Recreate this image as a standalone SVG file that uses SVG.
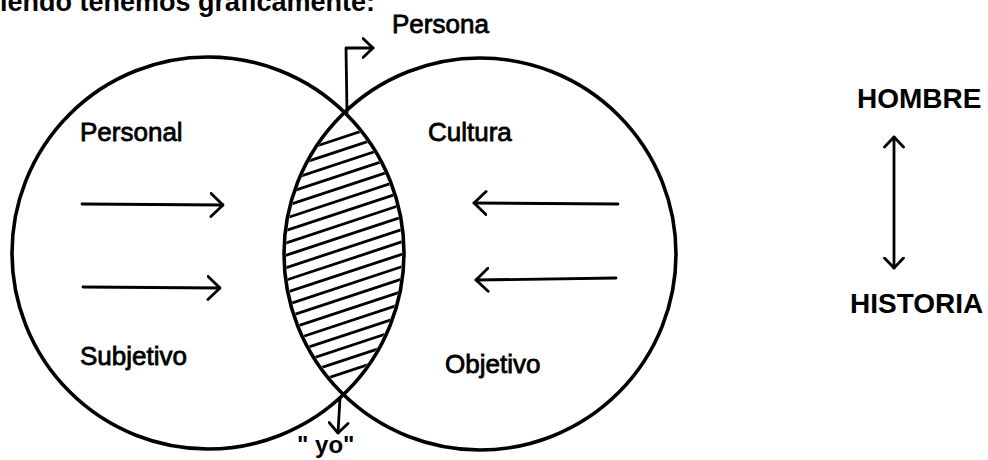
<svg xmlns="http://www.w3.org/2000/svg" width="988" height="460" viewBox="0 0 988 460">
<style>
.circ{fill:none;stroke:#000;stroke-width:3.6}
.hatch line{stroke:#000;stroke-width:2.8;stroke-linecap:round}
.arr{fill:none;stroke:#000;stroke-width:2.8;stroke-linecap:round;stroke-linejoin:round}
.lbl{font-family:"Liberation Sans",Arial,sans-serif;font-size:26px;fill:#000;stroke:#000;stroke-width:0.8}
.big{font-family:"Liberation Sans",Arial,sans-serif;font-size:28px;font-weight:bold;fill:#000}
</style>
<defs>
<clipPath id="cl1"><circle cx="208" cy="253" r="194"/></clipPath>
<clipPath id="cl2"><circle cx="480" cy="254" r="194"/></clipPath>
<marker id="ah" viewBox="0 0 15 26" refX="13.5" refY="13" markerWidth="15" markerHeight="26" markerUnits="userSpaceOnUse" orient="auto">
<path d="M1.5,1.5 L13.5,13 L1.5,24.5" fill="none" stroke="#000" stroke-width="2.8" stroke-linecap="round" stroke-linejoin="round"/>
</marker>
<marker id="as" viewBox="0 0 13 22" refX="11.5" refY="11" markerWidth="13" markerHeight="22" markerUnits="userSpaceOnUse" orient="auto-start-reverse">
<path d="M1.5,1.5 L11.5,11 L1.5,20.5" fill="none" stroke="#000" stroke-width="2.8" stroke-linecap="round" stroke-linejoin="round"/>
</marker>
</defs>
<rect width="988" height="460" fill="#fff"/>

<text class="big" x="0" y="11" style="font-size:27px">iendo tenemos gráficamente:</text>

<g id="personal-circle">
<circle class="circ" cx="208" cy="253" r="196"/>
<text class="lbl" x="80" y="141">Personal</text>
<text class="lbl" x="80" y="365">Subjetivo</text>
</g>
<g id="cultura-circle">
<circle class="circ" cx="480" cy="254" r="196"/>
<text class="lbl" x="428" y="141">Cultura</text>
<text class="lbl" x="445" y="373">Objetivo</text>
</g>
<g id="lens">
<g clip-path="url(#cl1)"><g clip-path="url(#cl2)" class="hatch">
<line x1="260" y1="164.7" x2="430" y2="108.6"/>
<line x1="260" y1="177.1" x2="430" y2="121"/>
<line x1="260" y1="189.5" x2="430" y2="133.4"/>
<line x1="260" y1="201.9" x2="430" y2="145.8"/>
<line x1="260" y1="214.3" x2="430" y2="158.2"/>
<line x1="260" y1="226.7" x2="430" y2="170.6"/>
<line x1="260" y1="239.1" x2="430" y2="183"/>
<line x1="260" y1="251.5" x2="430" y2="195.4"/>
<line x1="260" y1="263.9" x2="430" y2="207.8"/>
<line x1="260" y1="276.3" x2="430" y2="220.2"/>
<line x1="260" y1="288.7" x2="430" y2="232.6"/>
<line x1="260" y1="301.1" x2="430" y2="245"/>
<line x1="260" y1="313.5" x2="430" y2="257.4"/>
<line x1="260" y1="325.9" x2="430" y2="269.8"/>
<line x1="260" y1="338.3" x2="430" y2="282.2"/>
<line x1="260" y1="350.7" x2="430" y2="294.6"/>
<line x1="260" y1="363.1" x2="430" y2="307"/>
<line x1="260" y1="375.5" x2="430" y2="319.4"/>
<line x1="260" y1="387.9" x2="430" y2="331.8"/>
<line x1="260" y1="400.3" x2="430" y2="344.2"/>
</g></g>
</g>
<g id="persona">
<text class="lbl" x="392" y="33">Persona</text>
</g>
<g id="yo">
<text class="big" x="297" y="453" style="font-size:24px">" yo"</text>
</g>
<g id="hombre">
<text class="big" x="857" y="108">HOMBRE</text>
</g>
<g id="historia">
<text class="big" x="850" y="313">HISTORIA</text>
</g>

<g id="connectors">
<path class="arr" d="M82,204 L223,205" marker-end="url(#ah)"/>
<path class="arr" d="M83,287 L220,288" marker-end="url(#ah)"/>
<path class="arr" d="M618,204 L474,203" marker-end="url(#ah)"/>
<path class="arr" d="M616,278 L476,280" marker-end="url(#ah)"/>
<path class="arr" d="M347,113 L346,48 L373,48" marker-end="url(#as)"/>
<path class="arr" d="M340,398 L338,433" marker-end="url(#as)"/>
<path class="arr" d="M894,137 L894,268" marker-start="url(#as)" marker-end="url(#as)"/>
</g>
</svg>
